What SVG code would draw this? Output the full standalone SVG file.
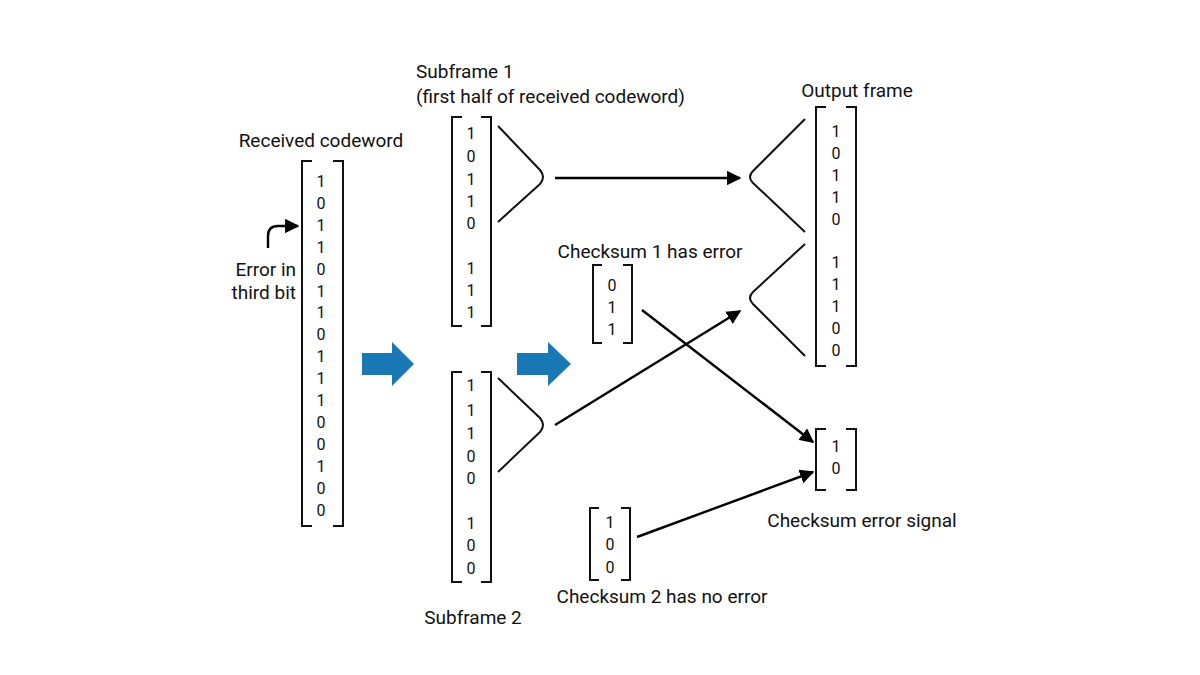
<svg xmlns="http://www.w3.org/2000/svg" width="1200" height="675" viewBox="0 0 1200 675">
<defs>
<marker id="ah" viewBox="0 0 10 10" refX="9" refY="5" markerWidth="6" markerHeight="6" orient="auto"><path d="M0,0L10,5L0,10z" fill="#000"/></marker>
<style>
text{font-family:Roboto,"Liberation Sans",sans-serif;fill:#111}
.lbl{font-size:19px}
.d{font-size:16px;text-anchor:middle}
.br{fill:none;stroke:#111;stroke-width:2}
.v{fill:none;stroke:#111;stroke-width:2}
.c{fill:none;stroke:#000;stroke-width:2.4;marker-end:url(#ah)}
.blue{fill:#1a78b4}
</style>
</defs>
<rect width="1200" height="675" fill="#fff"/>
<g id="received">
<text class="lbl" x="321" y="147" text-anchor="middle">Received codeword</text>
<path class="br" d="M312,161H302V526H312M333,161H343V526H333"/>
<g class="d">
<text x="321" y="187">1</text><text x="321" y="209">0</text><text x="321" y="231">1</text><text x="321" y="253">1</text><text x="321" y="275">0</text><text x="321" y="297">1</text><text x="321" y="318">1</text><text x="321" y="340">0</text><text x="321" y="362">1</text><text x="321" y="384">1</text><text x="321" y="406">1</text><text x="321" y="428">0</text><text x="321" y="450">0</text><text x="321" y="472">1</text><text x="321" y="494">0</text><text x="321" y="516">0</text>
</g>
</g>
<g id="error-note">
<text class="lbl" x="296" y="276" text-anchor="end">Error in</text>
<text class="lbl" x="296" y="299" text-anchor="end">third bit</text>
<path class="c" d="M268,248V236Q268,226 278,226H298" stroke-width="2.2"/>
</g>
<g id="blue-arrows">
<path class="blue" d="M362,353H392V342L414,364L392,386V375H362z"/>
<path class="blue" d="M517,353H548V342L571,364L548,386V375H517z"/>
</g>
<g id="subframe1">
<text class="lbl" x="416" y="78">Subframe 1</text>
<text class="lbl" x="416" y="103">(first half of received codeword)</text>
<path class="br" d="M462,117H452V326H462M481,117H491V326H481"/>
<g class="d"><text x="471" y="139">1</text><text x="471" y="162">0</text><text x="471" y="185">1</text><text x="471" y="207">1</text><text x="471" y="229">0</text><text x="471" y="274">1</text><text x="471" y="296">1</text><text x="471" y="318">1</text></g>
<path class="v" d="M498,126L540,170Q546,177 540,184L498,222"/>
</g>
<g id="subframe2">
<text class="lbl" x="473" y="624" text-anchor="middle">Subframe 2</text>
<path class="br" d="M462,372H452V582H462M481,372H491V582H481"/>
<g class="d"><text x="471" y="391">1</text><text x="471" y="416">1</text><text x="471" y="439">1</text><text x="471" y="462">0</text><text x="471" y="484">0</text><text x="471" y="529">1</text><text x="471" y="551">0</text><text x="471" y="574">0</text></g>
<path class="v" d="M498,378L540,418Q546,425 540,432L498,472"/>
</g>
<g id="checksum1">
<text class="lbl" x="650" y="258" text-anchor="middle">Checksum 1 has error</text>
<path class="br" d="M602,265H593V343H602M623,265H632V343H623"/>
<g class="d"><text x="612" y="291">0</text><text x="612" y="313">1</text><text x="612" y="335">1</text></g>
</g>
<g id="checksum2">
<text class="lbl" x="662" y="603" text-anchor="middle">Checksum 2 has no error</text>
<path class="br" d="M599,508H590V580H599M621,508H630V580H621"/>
<g class="d"><text x="610" y="528">1</text><text x="610" y="550">0</text><text x="610" y="573">0</text></g>
</g>
<g id="output">
<text class="lbl" x="857" y="97" text-anchor="middle">Output frame</text>
<path class="br" d="M826,107H816V366H826M846,107H856V366H846"/>
<g class="d"><text x="836" y="137">1</text><text x="836" y="159">0</text><text x="836" y="181">1</text><text x="836" y="203">1</text><text x="836" y="225">0</text><text x="836" y="268">1</text><text x="836" y="290">1</text><text x="836" y="312">1</text><text x="836" y="334">0</text><text x="836" y="356">0</text></g>
<path class="v" d="M805,119L753,171Q747,177 753,183L805,232"/>
<path class="v" d="M805,244L753,292Q747,298 753,304L805,356"/>
</g>
<g id="error-signal">
<text class="lbl" x="862" y="527" text-anchor="middle">Checksum error signal</text>
<path class="br" d="M826,429H816V490H826M846,429H856V490H846"/>
<g class="d"><text x="836" y="452">1</text><text x="836" y="474">0</text></g>
</g>
<g id="connectors">
<path class="c" d="M555,178H740"/>
<path class="c" d="M555,425L740,311"/>
<path class="c" d="M642,310L813,442"/>
<path class="c" d="M637,537L813,472"/>
</g>
</svg>
